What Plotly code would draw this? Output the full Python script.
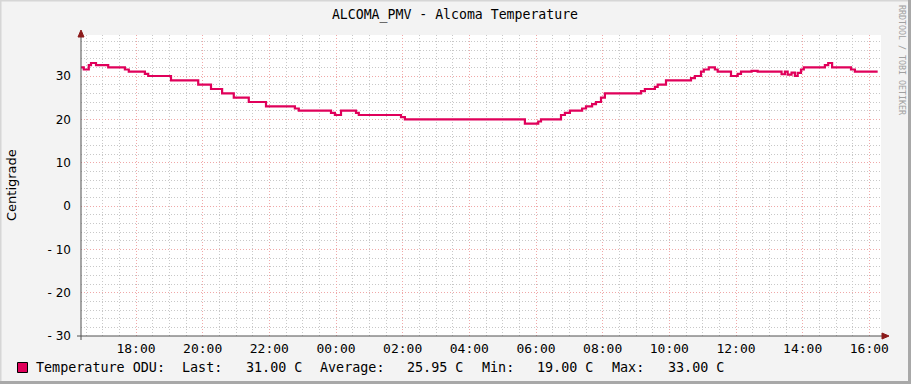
import plotly.graph_objects as go

# ---------------- data ----------------
times = [
    "2024-01-01 16:21", "2024-01-01 16:26", "2024-01-01 16:35", "2024-01-01 16:39",
    "2024-01-01 16:48", "2024-01-01 17:10", "2024-01-01 17:40", "2024-01-01 17:47",
    "2024-01-01 18:16", "2024-01-01 18:22", "2024-01-01 19:03", "2024-01-01 19:52",
    "2024-01-01 20:15", "2024-01-01 20:35", "2024-01-01 20:56", "2024-01-01 21:23",
    "2024-01-01 21:54", "2024-01-01 22:46", "2024-01-01 22:53", "2024-01-01 23:51",
    "2024-01-01 23:58", "2024-01-02 00:09", "2024-01-02 00:36", "2024-01-02 00:41",
    "2024-01-02 01:57", "2024-01-02 02:04", "2024-01-02 05:40", "2024-01-02 06:04",
    "2024-01-02 06:09", "2024-01-02 06:45", "2024-01-02 06:52", "2024-01-02 07:01",
    "2024-01-02 07:23", "2024-01-02 07:30", "2024-01-02 07:41", "2024-01-02 07:48",
    "2024-01-02 07:57", "2024-01-02 08:04", "2024-01-02 09:09", "2024-01-02 09:16",
    "2024-01-02 09:34", "2024-01-02 09:39", "2024-01-02 09:54", "2024-01-02 10:39",
    "2024-01-02 10:46", "2024-01-02 10:57", "2024-01-02 11:02", "2024-01-02 11:11",
    "2024-01-02 11:22", "2024-01-02 11:27", "2024-01-02 11:51", "2024-01-02 12:03",
    "2024-01-02 12:09", "2024-01-02 12:28", "2024-01-02 12:39", "2024-01-02 13:22",
    "2024-01-02 13:28", "2024-01-02 13:33", "2024-01-02 13:40", "2024-01-02 13:46",
    "2024-01-02 13:51", "2024-01-02 13:57", "2024-01-02 14:02", "2024-01-02 14:40",
    "2024-01-02 14:46", "2024-01-02 14:53", "2024-01-02 15:27", "2024-01-02 15:34",
    "2024-01-02 16:15",
]
temps = [
    32, 31.5, 32.5, 33,
    32.5, 32, 31.5, 31,
    30.5, 30, 29, 28,
    27, 26, 25, 24,
    23, 22.5, 22, 21.5,
    21, 22, 21.5, 21,
    20.5, 20, 19, 19.5,
    20, 21, 21.5, 22,
    22.5, 23, 23.5, 24,
    25, 26, 26.5, 27,
    27.5, 28, 29, 29.5,
    30, 31, 31.5, 32,
    31.5, 31, 30, 30.5,
    31, 31.2, 31, 30.4,
    31, 30.3, 30.8, 30,
    30.7, 31.5, 32, 32.5,
    33, 32, 31.5, 31,
    31,
]
y_tick_vals = [30, 20, 10, 0, -10, -20, -30]
y_tick_text = ["30", "20", "10", "0", "- 10", "- 20", "- 30"]
title_text = "ALCOMA_PMV - Alcoma Temperature"
y_title = "Centigrade"
legend_parts = ["Temperature ODU:", "Last:", "31.00 C", "Average:", "25.95 C",
                "Min:", "19.00 C", "Max:", "33.00 C"]
watermark = "RRDTOOL / TOBI OETIKER"
x_start = "2024-01-01 16:21"
x_end = "2024-01-02 16:21"

# ---------------- layout constants ----------------
W, H = 911, 384
L, R, T, B = 81, 30, 35, 48
PW, PH = W - L - R, H - T - B
LINE_COLOR = "#E0005A"
MONO = "DejaVu Sans Mono"
DOTS = "1px,2px"

def px(xp):
    return (xp - L) / PW

def py(yp):
    return (H - B - yp) / PH

fig = go.Figure()
fig.add_trace(go.Scatter(
    x=times, y=temps, mode="lines", line=dict(color=LINE_COLOR, width=2.2, shape="hv"),
    showlegend=False, hoverinfo="skip"))

fig.update_layout(
    width=W, height=H,
    margin=dict(l=L, r=R, t=T, b=B, autoexpand=False),
    paper_bgcolor="#F3F3F3", plot_bgcolor="#FFFFFF",
    showlegend=False,
    title=dict(text=title_text, x=(455 - L) / PW, xref="paper", xanchor="center",
               y=1 - 14 / H, yref="container", yanchor="middle",
               font=dict(family=MONO, size=13.2, color="#000000")),
    font=dict(family=MONO, size=13, color="#000000"),
)

fig.update_xaxes(
    type="date", range=[x_start, x_end], tickformat="%H:%M",
    dtick=2 * 3600 * 1000, tick0="2024-01-01 00:00",
    showgrid=True, gridcolor="#F0A8A8", griddash=DOTS, gridwidth=1,
    minor=dict(dtick=30 * 60 * 1000, tick0="2024-01-01 00:00", showgrid=True,
               gridcolor="#C8C8C8", griddash=DOTS, gridwidth=1),
    showline=False, zeroline=False, ticks="", ticklabelstandoff=3, automargin=False,
    tickfont=dict(family=MONO, size=13, color="#000000"),
)
fig.update_yaxes(
    range=[-30, -30 + PH / (260 / 60)], tickvals=y_tick_vals, ticktext=y_tick_text,
    showgrid=True, gridcolor="#F0A8A8", griddash=DOTS, gridwidth=1,
    minor=dict(dtick=2, showgrid=True, gridcolor="#C8C8C8", griddash=DOTS, gridwidth=1),
    showline=False, zeroline=False, ticks="", ticklabelstandoff=9, automargin=False,
    tickfont=dict(family="DejaVu Sans", size=12, color="#000000"),
)

shapes = []
# frame shading
shapes.append(dict(type="rect", xref="paper", yref="paper", x0=px(0), x1=px(W), y0=py(0), y1=py(1.5),
                   line=dict(width=0), fillcolor="#D6D6D6", layer="below"))
shapes.append(dict(type="rect", xref="paper", yref="paper", x0=px(0), x1=px(1.5), y0=py(0), y1=py(H),
                   line=dict(width=0), fillcolor="#D6D6D6", layer="below"))
shapes.append(dict(type="rect", xref="paper", yref="paper", x0=px(W - 3), x1=px(W), y0=py(0), y1=py(H),
                   line=dict(width=0), fillcolor="#A8A8A8", layer="below"))
shapes.append(dict(type="rect", xref="paper", yref="paper", x0=px(0), x1=px(W), y0=py(H - 3), y1=py(H),
                   line=dict(width=0), fillcolor="#A8A8A8", layer="below"))
# axis lines
shapes.append(dict(type="line", xref="paper", yref="paper", x0=px(77), x1=px(884), y0=0, y1=0,
                   line=dict(color="#505050", width=1)))
shapes.append(dict(type="line", xref="paper", yref="paper", x0=0, x1=0, y0=py(340), y1=py(33),
                   line=dict(color="#505050", width=1)))
# arrows
shapes.append(dict(type="path", xref="paper", yref="paper",
                   path=f"M {px(882)} {py(333)} L {px(889)} {py(336)} L {px(882)} {py(339)} Z",
                   fillcolor="#8B1A1A", line=dict(color="#8B1A1A", width=1)))
shapes.append(dict(type="path", xref="paper", yref="paper",
                   path=f"M {px(78)} {py(37)} L {px(81)} {py(30)} L {px(84)} {py(37)} Z",
                   fillcolor="#8B1A1A", line=dict(color="#8B1A1A", width=1)))
# legend swatch
shapes.append(dict(type="rect", xref="paper", yref="paper", x0=px(17.5), x1=px(27.5),
                   y0=py(372.5), y1=py(362.5), fillcolor=LINE_COLOR, line=dict(color="#000000", width=1)))
fig.update_layout(shapes=shapes)

ann = []
ann.append(dict(text=y_title, x=px(11), y=py(185), xref="paper", yref="paper", showarrow=False,
                textangle=-90, xanchor="center", yanchor="middle",
                font=dict(family="DejaVu Sans", size=13, color="#000000")))
ann.append(dict(text=watermark, x=px(902), y=py(60), xref="paper", yref="paper", showarrow=False,
                textangle=90, xanchor="center", yanchor="middle",
                font=dict(family=MONO, size=8.3, color="#A0A0A0")))
legend_x = [33.7, 180, 244, 318, 405, 480, 535, 610, 666]
for txt, lx in zip(legend_parts, legend_x):
    ann.append(dict(text=txt, x=px(lx), y=py(367.5), xref="paper", yref="paper", showarrow=False,
                    xanchor="left", yanchor="middle",
                    font=dict(family=MONO, size=13.4, color="#000000")))
fig.update_layout(annotations=ann)

fig.write_html("out.html", config={"displayModeBar": False},
               post_script="document.body.style.margin='0';document.body.style.overflow='hidden';")
